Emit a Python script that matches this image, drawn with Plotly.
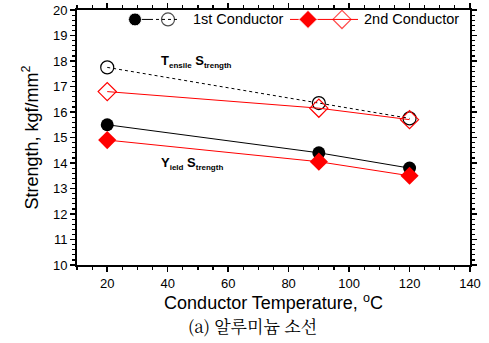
import plotly.graph_objects as go

temps = [20, 90, 120]
tensile_1st = [17.75, 16.35, 15.75]
tensile_2nd = [16.8, 16.15, 15.7]
yield_1st = [15.5, 14.4, 13.8]
yield_2nd = [14.9, 14.05, 13.5]

x_ticks = [20, 40, 60, 80, 100, 120, 140]
y_ticks = [10, 11, 12, 13, 14, 15, 16, 17, 18, 19, 20]

fig = go.Figure()
fig.add_trace(go.Scatter(x=temps, y=tensile_1st, mode="lines+markers",
                         line=dict(color="black", width=1, dash="dot"),
                         marker=dict(symbol="circle-open", size=13, color="black", line=dict(width=1.2))))
fig.add_trace(go.Scatter(x=temps, y=tensile_2nd, mode="lines+markers",
                         line=dict(color="red", width=1),
                         marker=dict(symbol="diamond-open", size=14, color="red", line=dict(width=1.2))))
fig.add_trace(go.Scatter(x=temps, y=yield_1st, mode="lines+markers",
                         line=dict(color="black", width=1),
                         marker=dict(symbol="circle", size=13, color="black")))
fig.add_trace(go.Scatter(x=temps, y=yield_2nd, mode="lines+markers",
                         line=dict(color="red", width=1),
                         marker=dict(symbol="diamond", size=14, color="red")))

font = "Liberation Sans, Arial, sans-serif"
axis_common = dict(showline=True, linecolor="black", linewidth=2, mirror="ticks",
                   ticks="outside", ticklen=5, tickwidth=1.5, tickcolor="black",
                   showgrid=False, zeroline=False, automargin=False,
                   tickfont=dict(family=font, size=13, color="black"))
fig.update_xaxes(range=[10, 140], tickvals=x_ticks,
                 minor=dict(dtick=5, ticks="outside", ticklen=3, tickwidth=1.2, tickcolor="black"),
                 title=dict(text="Conductor Temperature, <sup>o</sup>C", font=dict(family=font, size=18, color="black"), standoff=5),
                 **axis_common)
fig.update_yaxes(range=[10, 20], tickvals=y_ticks,
                 minor=dict(dtick=0.2, ticks="outside", ticklen=3, tickwidth=1.2, tickcolor="black"),
                 title=dict(text="Strength, kgf/mm<sup>2</sup>", font=dict(family=font, size=18, color="black"), standoff=10),
                 **axis_common)

# Custom legend (paper coordinates)
ly = 0.963
def px2x(p):
    return (p - 77) / (470 - 77)
shapes = [
    dict(type="line", xref="paper", yref="paper", x0=px2x(128), x1=px2x(150), y0=ly, y1=ly, layer="below", line=dict(color="black", width=1)),
    dict(type="line", xref="paper", yref="paper", x0=px2x(150), x1=px2x(180), y0=ly, y1=ly, layer="below", line=dict(color="black", width=1, dash="dot")),
    dict(type="line", xref="paper", yref="paper", x0=px2x(290), x1=px2x(358), y0=ly, y1=ly, layer="below", line=dict(color="red", width=1)),
]
fig.update_layout(shapes=shapes)
fig.add_trace(go.Scatter(x=[px2x(135), px2x(308)], y=[ly, ly], xaxis="x2", yaxis="y2", mode="markers",
                         marker=dict(symbol=["circle", "diamond"], size=[13, 14], color=["black", "red"], opacity=1),
                         hoverinfo="skip"))
fig.add_trace(go.Scatter(x=[px2x(168), px2x(342)], y=[ly, ly], xaxis="x2", yaxis="y2", mode="markers",
                         marker=dict(symbol=["circle-open", "diamond-open"], size=[13, 14], color=["black", "red"],
                                     line=dict(width=1.2)),
                         hoverinfo="skip"))
fig.update_layout(
    xaxis2=dict(overlaying="x", range=[0, 1], visible=False),
    yaxis2=dict(overlaying="y", range=[0, 1], visible=False),
)

sm = "<span style='font-size:8px'>"
annotations = [
    dict(xref="paper", yref="paper", x=px2x(191), y=ly, xanchor="left", yanchor="middle",
         text="1st Conductor", showarrow=False, font=dict(family=font, size=14.5, color="black")),
    dict(xref="paper", yref="paper", x=px2x(362), y=ly, xanchor="left", yanchor="middle",
         text="2nd Conductor", showarrow=False, font=dict(family=font, size=14.5, color="black")),
    dict(x=37, y=18.0, xref="x", yref="y", xanchor="left", yanchor="middle", showarrow=False,
         text="<b>T</b><sub>" + sm + "<b>ensile</b></span></sub> <b>S</b><sub>" + sm + "<b>trength</b></span></sub>",
         font=dict(family=font, size=13, color="black")),
    dict(x=37, y=14.0, xref="x", yref="y", xanchor="left", yanchor="middle", showarrow=False,
         text="<b>Y</b><sub>" + sm + "<b>ield</b></span></sub> <b>S</b><sub>" + sm + "<b>trength</b></span></sub>",
         font=dict(family=font, size=13, color="black")),
    dict(xref="paper", yref="paper", x=px2x(252), y=(265 - 325) / 255.0, xanchor="center", yanchor="middle",
         showarrow=False, text="(a) 알루미늄 소선",
         font=dict(family="Noto Serif CJK KR, Noto Sans CJK KR, serif", size=17, color="black")),
]
fig.update_layout(annotations=annotations)

fig.update_layout(width=489, height=343, margin=dict(l=77, r=19, t=10, b=78),
                  plot_bgcolor="white", paper_bgcolor="white", showlegend=False, hovermode=False)
fig.write_html("out.html", config={"displayModeBar": False, "staticPlot": True},
               post_script="document.body.style.margin='0';document.body.style.overflow='hidden';")
